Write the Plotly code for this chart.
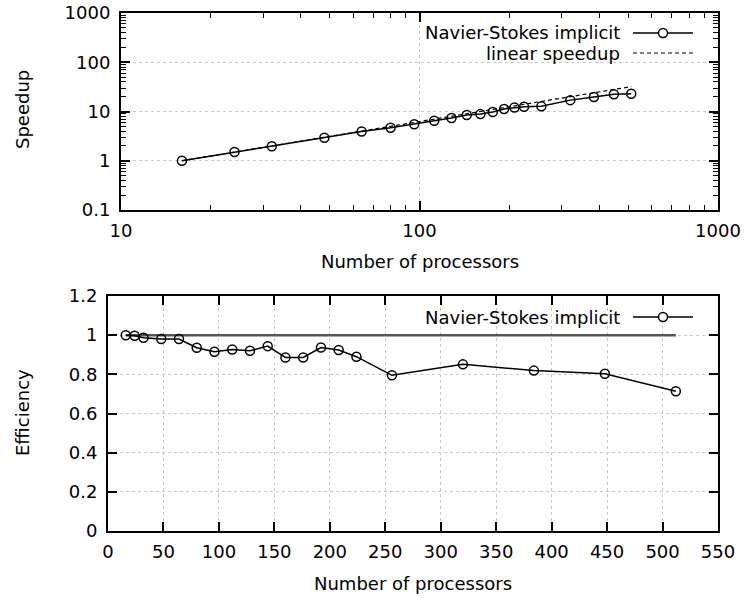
import plotly.graph_objects as go

# ---- data ----
procs = [16, 24, 32, 48, 64, 80, 96, 112, 128, 144, 160, 176, 192, 208, 224, 256, 320, 384, 448, 512]
speedup = [1.0, 1.5, 1.97, 2.94, 3.92, 4.68, 5.49, 6.49, 7.36, 8.5, 8.86, 9.75, 11.24, 12.01, 12.46,
           12.72, 17.02, 19.66, 22.48, 22.85]
efficiency = [1.0, 0.997, 0.987, 0.98, 0.98, 0.936, 0.915, 0.927, 0.92, 0.944, 0.886, 0.886, 0.937,
              0.924, 0.89, 0.795, 0.851, 0.819, 0.803, 0.714]
linear_procs = [16, 512]
linear_speedup = [1, 32]
ideal_efficiency = [1, 1]

series_name = "Navier-Stokes implicit"
linear_name = "linear speedup"
x_title = "Number of processors"

W, H = 744, 598
FONT = "DejaVu Sans"
FS = 18


def px(x):
    return x / W


def py(y):
    return 1 - y / H


fig = go.Figure()

fig.add_trace(go.Scatter(x=linear_procs, y=linear_speedup, mode="lines",
                         line=dict(color="black", width=1.2, dash="4px,3px"),
                         xaxis="x", yaxis="y", showlegend=False))
fig.add_trace(go.Scatter(x=procs, y=speedup, mode="lines+markers",
                         line=dict(color="black", width=1.5),
                         marker=dict(symbol="circle-open", size=9, color="black", line=dict(width=1.5)),
                         xaxis="x", yaxis="y", showlegend=False))

fig.add_trace(go.Scatter(x=linear_procs, y=ideal_efficiency, mode="lines",
                         line=dict(color="#555555", width=2.5),
                         xaxis="x2", yaxis="y2", showlegend=False))
fig.add_trace(go.Scatter(x=procs, y=efficiency, mode="lines+markers",
                         line=dict(color="black", width=1.5),
                         marker=dict(symbol="circle-open", size=9, color="black", line=dict(width=1.5)),
                         xaxis="x2", yaxis="y2", showlegend=False))

common = dict(showline=True, linecolor="black", linewidth=2, mirror="allticks",
              ticks="inside", ticklen=9, tickwidth=1.5, tickcolor="black",
              showgrid=True, gridcolor="#c8c8c8", griddash="dot", gridwidth=1,
              zeroline=False, automargin=False, ticklabelstandoff=3,
              ticklabeloverflow="allow",
              tickfont=dict(family=FONT, size=FS, color="black"))

minor_log = dict(ticks="inside", ticklen=5, tickwidth=1, tickcolor="black", dtick="D1", showgrid=False)

fig.update_layout(
    width=W, height=H,
    margin=dict(l=0, r=0, t=0, b=0, pad=0),
    paper_bgcolor="white", plot_bgcolor="white",
    font=dict(family=FONT, size=FS, color="black"),
    xaxis=dict(domain=[px(121), px(718)], type="log", range=[1, 3], dtick=1,
               exponentformat="none", anchor="y", minor=minor_log, **common),
    yaxis=dict(domain=[py(210), py(13)], type="log", range=[-1, 3], dtick=1,
               exponentformat="none", anchor="x", minor=minor_log, **common),
    xaxis2=dict(domain=[px(108), px(718)], range=[0, 550], dtick=50, anchor="y2", **common),
    yaxis2=dict(domain=[py(531), py(296)], range=[0, 1.2], dtick=0.2, anchor="x2", **common),
)
fig.update_yaxes(ticklabelstandoff=5)

annotations = [
    dict(text="Speedup", x=px(22), y=py(110), textangle=-90),
    dict(text="Efficiency", x=px(22), y=py(413), textangle=-90),
    dict(text=x_title, x=px(420), y=py(261)),
    dict(text=x_title, x=px(413), y=py(583)),
    dict(text=series_name, x=px(622), y=py(33), xanchor="right"),
    dict(text=linear_name, x=px(622), y=py(53), xanchor="right"),
    dict(text=series_name, x=px(622), y=py(317), xanchor="right"),
]
for a in annotations:
    a.setdefault("xanchor", "center")
    a.update(xref="paper", yref="paper", yanchor="middle", showarrow=False,
             font=dict(family=FONT, size=FS, color="black"))
fig.update_layout(annotations=annotations)

shapes = [
    # opaque key backgrounds (hide grid behind the keys)
    dict(type="rect", xref="paper", yref="paper", layer="between", x0=px(353), x1=px(716),
         y0=py(66), y1=py(15), fillcolor="white", line=dict(width=0)),
    dict(type="rect", xref="paper", yref="paper", layer="between", x0=px(353), x1=px(716),
         y0=py(332), y1=py(298), fillcolor="white", line=dict(width=0)),
]
for yy in (33, 317):
    shapes.append(dict(type="line", xref="paper", yref="paper", x0=px(633), x1=px(693), y0=py(yy), y1=py(yy),
                       line=dict(color="black", width=1.5)))
    shapes.append(dict(type="circle", xref="paper", yref="paper", xsizemode="pixel", ysizemode="pixel",
                       xanchor=px(663), yanchor=py(yy), x0=-4.5, x1=4.5, y0=-4.5, y1=4.5,
                       line=dict(color="black", width=1.5), fillcolor="white"))
shapes.append(dict(type="line", xref="paper", yref="paper", x0=px(633), x1=px(693), y0=py(53), y1=py(53),
                   line=dict(color="black", width=1.2, dash="4px,3px")))
fig.update_layout(shapes=shapes)

fig.write_html("out.html", config={"displayModeBar": False},
               post_script="document.body.style.margin='0';document.body.style.overflow='hidden';")
